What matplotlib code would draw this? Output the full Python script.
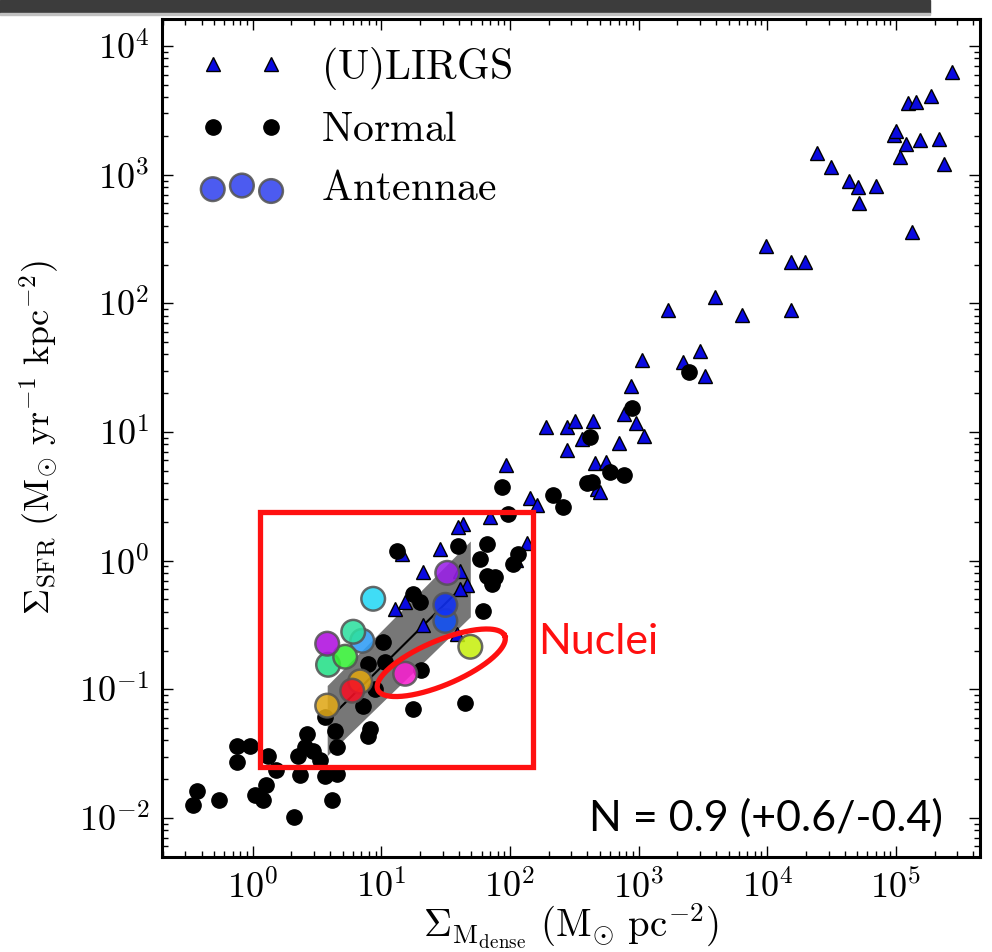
import numpy as np
import matplotlib
matplotlib.use('Agg')
import matplotlib.pyplot as plt
from matplotlib.patches import Rectangle
from matplotlib.ticker import FuncFormatter

plt.rcParams['mathtext.fontset'] = 'cm'

# (U)LIRGs
lirg_x = [2.72e5, 1.87e5, 1.24e5, 1.43e5, 9.7e4, 1.0e5, 1.19e5, 1.53e5, 2.15e5,
          1.07e5, 2.36e5, 2.42e4, 3.11e4, 4.29e4, 5.05e4, 6.96e4, 5.14e4, 1.33e5,
          9700, 1.52e4, 1.95e4, 1.52e4, 6300, 3890, 1680, 2970, 2230, 3250,
          1070, 879, 762, 961, 1090, 192, 279, 322, 445, 365, 697, 279,
          461, 561, 478, 504, 93.6, 144, 163, 136, 43.3, 39.6, 70.3, 28.7,
          21.2, 41.0, 46.5, 41.0, 15.3, 12.8, 21.2, 38.9, 14.5, 112]
lirg_y = [6300, 4100, 3620, 3680, 2050, 2200, 1740, 1870, 1900,
          1380, 1200, 1480, 1150, 898, 807, 822, 606, 361,
          281, 211, 211, 88, 80.5, 112, 88, 42.4, 34.8, 27.1,
          36.1, 22.7, 13.7, 11.7, 9.28, 10.9, 10.9, 12.1, 12.1, 8.80, 8.19, 7.22,
          5.73, 5.83, 3.60, 3.41, 5.53, 3.07, 2.70, 1.37, 1.93, 1.83, 2.18, 1.23,
          0.817, 0.832, 0.648, 0.603, 0.478, 0.422, 0.317, 0.270, 1.13, 1.01]

# normal galaxies
norm_x = [2440, 895, 422, 603, 762, 393, 437, 87.1, 217, 260, 97, 13.3, 39.6,
          66.6, 58.7, 116, 106, 76.9, 66.6, 72.8, 17.7, 20.0, 62.0, 10.3, 7.89,
          10.7, 20.4, 8.95, 17.7, 44.9, 7.22, 3.65, 4.37, 8.18, 7.89, 2.65, 4.53,
          0.755, 0.953, 0.755, 1.32, 2.55, 2.25, 2.95, 3.34, 1.52, 2.33, 3.65,
          4.53, 0.369, 0.343, 0.547, 1.27, 1.04, 1.20, 4.14, 2.10]
norm_y = [29.1, 15.3, 9.12, 4.88, 4.62, 4.01, 4.08, 3.73, 3.23, 2.61, 2.30, 1.19, 1.30,
          1.35, 1.03, 1.13, 0.943, 0.748, 0.761, 0.660, 0.552, 0.478, 0.407, 0.234, 0.158,
          0.164, 0.142, 0.101, 0.0707, 0.0787, 0.0746, 0.0613, 0.0477, 0.0495, 0.0437, 0.0453, 0.0359,
          0.0365, 0.0365, 0.0274, 0.0305, 0.0359, 0.0305, 0.0334, 0.0284, 0.0234, 0.0214, 0.0210,
          0.0221, 0.0163, 0.0127, 0.0139, 0.0179, 0.0150, 0.0139, 0.0137, 0.0101]

# Antennae regions
ant_x = [7.09, 6.04, 3.85, 5.23, 3.79, 8.63, 32.5, 31.4, 31.4, 49.1, 15.3, 6.84, 5.93, 3.79]
ant_y = [0.238, 0.280, 0.155, 0.179, 0.226, 0.505, 0.803, 0.340, 0.453, 0.214, 0.132, 0.115, 0.0975, 0.0746]
ant_colors = ['#2f9cf5', '#2ee0a0', '#25e088', '#35f035', '#b010e0', '#25d8f5', '#9a20e8',
              '#1050f5', '#1030f5', '#c8f010', '#f820d0', '#e0a410', '#f51025', '#e0a818']

# fit band (Antennae)
band_x = [3.79, 49.1]
band_lo = [0.0305, 0.366]
band_hi = [0.107, 1.42]
fit_x = [4.3, 40.0]
fit_y = [0.0647, 0.589]

# axis ticks
x_ticks = [1e0, 1e1, 1e2, 1e3, 1e4, 1e5]
y_ticks = [1e-2, 1e-1, 1e0, 1e1, 1e2, 1e3, 1e4]

# annotations
box_x = [1.14, 152]
box_y = [0.0251, 2.40]
ell_center = (1.465, -0.794)   # log10 x, log10 y
ell_axes = (0.536, 0.172)      # semi axes, decades
ell_angle = 23.0
nuclei_pos = (165, 0.235)

fig = plt.figure(figsize=(9.92, 9.52), dpi=100)
ax = fig.add_axes([162/992, 1-857/952, (980-162)/992, (857-19)/952])

ax.fill_between(band_x, band_lo, band_hi, color='#777777', lw=0, zorder=1)
ax.plot(fit_x, fit_y, '-', color='k', lw=1.5, zorder=2)

h1, = ax.plot(lirg_x, lirg_y, '^', ms=10.5, color='#0a0ae0', mec='k', mew=1.0, ls='none', zorder=3)
h2, = ax.plot(norm_x, norm_y, 'o', ms=11, color='k', mec='k', ls='none', zorder=4)
ax.scatter(ant_x, ant_y, s=290, c=ant_colors, edgecolors='#555555', linewidths=1.8,
           alpha=0.88, zorder=5)
h3 = ax.scatter([], [], s=290, c='#3344ee', edgecolors='#555555', linewidths=1.8, alpha=0.88)

# red box and ellipse
ax.add_patch(Rectangle((box_x[0], box_y[0]), box_x[1]-box_x[0], box_y[1]-box_y[0],
                       fill=False, ec='#ff1010', lw=3.8, zorder=6))
t = np.linspace(0, 2*np.pi, 200)
a, b = ell_axes
th = np.radians(ell_angle)
lx = ell_center[0] + a*np.cos(t)*np.cos(th) - b*np.sin(t)*np.sin(th)
ly = ell_center[1] + a*np.cos(t)*np.sin(th) + b*np.sin(t)*np.cos(th)
ax.plot(10**lx, 10**ly, '-', color='#ff1010', lw=3.8, zorder=6)
ax.text(nuclei_pos[0], nuclei_pos[1], 'Nuclei', color='#ff1010', fontsize=31,
        family='Lato', ha='left', va='center', zorder=7)
ax.text(0.955, 0.047, 'N = 0.9 (+0.6/-0.4)', transform=ax.transAxes, fontsize=31,
        family='Lato', ha='right', va='center', zorder=7)

ax.set_xscale('log')
ax.set_yscale('log')
ax.set_xticks(x_ticks)
ax.set_yticks(y_ticks)
ax.set_xlim(0.197, 4.5e5)
ax.set_ylim(0.00497, 16200)

pow10 = FuncFormatter(lambda v, p: r'$10^{%d}$' % int(round(np.log10(v))))
ax.xaxis.set_major_formatter(pow10)
ax.yaxis.set_major_formatter(pow10)

for s in ax.spines.values():
    s.set_linewidth(2.2)
ax.tick_params(which='both', direction='in', top=True, right=True, width=1.0)
ax.tick_params(which='major', length=8, labelsize=26, pad=9)
ax.tick_params(which='minor', length=4)

ax.set_xlabel(r'$\Sigma_{\rm M_{dense}}\ ({\rm M}_{\odot}\ {\rm pc}^{-2})$', fontsize=28, labelpad=-2)
ax.set_ylabel(r'$\Sigma_{\rm SFR}\ ({\rm M}_{\odot}\ {\rm yr}^{-1}\ {\rm kpc}^{-2})$', fontsize=26, labelpad=12)

ax.legend([h1, h2, h3], [r'$\mathrm{(U)LIRGS}$', r'$\mathrm{Normal}$', r'$\mathrm{Antennae}$'],
          loc='upper left', bbox_to_anchor=(0.006, 1.009), numpoints=2, scatterpoints=3,
          frameon=False, fontsize=30, borderaxespad=0.4, labelspacing=0.4, handletextpad=0.9)

# slide header bar
fig.patches.append(Rectangle((0, 1-13/952), 930/992, 13/952, transform=fig.transFigure,
                             color='#3c3c3c', zorder=10))
fig.patches.append(Rectangle((0, 1-15/952), 930/992, 2/952, transform=fig.transFigure,
                             color='#c0c0c0', zorder=10))

fig.savefig('out.png', dpi=100)
